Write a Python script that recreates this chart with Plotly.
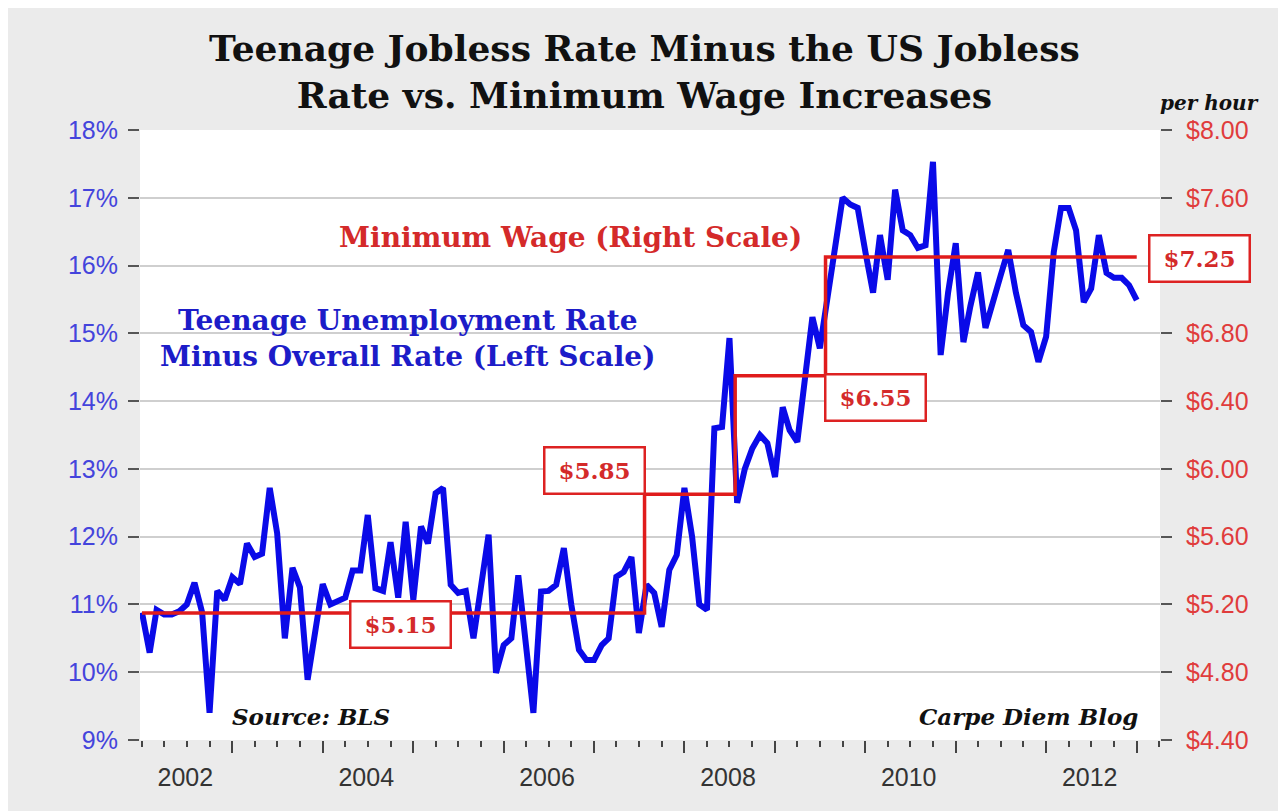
import pandas as pd
import plotly.graph_objects as go

# Monthly data, Jan 2002 onward
months = pd.date_range("2002-01-01", periods=133, freq="MS")
teen_minus_overall = [
    10.88, 10.29, 10.92, 10.85, 10.85, 10.90, 11.00, 11.32, 10.88, 9.40,
    11.20, 11.07, 11.40, 11.30, 11.90, 11.70, 11.75, 12.72, 12.05, 10.50,
    11.54, 11.25, 9.89, 10.60, 11.30, 11.00, 11.05, 11.10, 11.50, 11.50,
    12.32, 11.24, 11.20, 11.92, 11.10, 12.22, 11.07, 12.15, 11.90, 12.64,
    12.72, 11.29, 11.17, 11.20, 10.50, 11.30, 12.03, 9.99, 10.40, 10.50,
    11.43, 10.40, 9.40, 11.19, 11.20, 11.29, 11.83, 11.00, 10.33, 10.18,
    10.18, 10.40, 10.50, 11.41, 11.48, 11.70, 10.58, 11.29, 11.17, 10.67,
    11.51, 11.73, 12.72, 12.00, 11.00, 10.92, 13.60, 13.62, 14.93, 12.50,
    13.00, 13.30, 13.50, 13.38, 12.88, 13.91, 13.57, 13.40, 14.30, 15.24,
    14.78, 15.50, 16.20, 17.00, 16.90, 16.85, 16.20, 15.60, 16.45, 15.79,
    17.12, 16.52, 16.45, 16.26, 16.30, 17.53, 14.68, 15.60, 16.33, 14.87,
    15.40, 15.90, 15.08, 15.50, 15.85, 16.23, 15.60, 15.12, 15.02, 14.58,
    14.95, 16.20, 16.85, 16.85, 16.52, 15.46, 15.66, 16.45, 15.89, 15.82,
    15.82, 15.71, 15.49,
]

wage_dates = ["2002-01-01", "2007-07-24", "2008-07-24", "2009-07-24", "2013-01-01"]
min_wage = [5.15, 5.85, 6.55, 7.25, 7.25]
wage_labels = ["$5.15", "$5.85", "$6.55", "$7.25"]

year_ticks = [f"{y}-01-01" for y in range(2003, 2014)]
label_years = list(range(2002, 2013, 2))
label_pos = [f"{y}-06-25" for y in label_years]

SERIF = "DejaVu Serif"
RED = "#d42a2a"
BLUE = "#1c1cc8"

fig = go.Figure()
fig.add_trace(go.Scatter(
    x=months, y=teen_minus_overall, mode="lines",
    line=dict(color="#0a0ae8", width=6), yaxis="y", xaxis="x", showlegend=False,
))
fig.add_trace(go.Scatter(
    x=wage_dates, y=min_wage, mode="lines", line_shape="hv",
    line=dict(color="#e01c1c", width=3.5), yaxis="y2", xaxis="x", showlegend=False,
))
# invisible trace to carry the year-label axis
fig.add_trace(go.Scatter(
    x=label_pos, y=[None] * len(label_pos), mode="lines", xaxis="x2", yaxis="y",
    showlegend=False, hoverinfo="skip",
))

xrange = ["2001-12-24", "2013-04-05"]
TICKFONT = "Liberation Sans"

fig.update_layout(
    width=1278, height=803,
    paper_bgcolor="#ebebeb", plot_bgcolor="white",
    margin=dict(l=132, r=126, t=122, b=71),
    xaxis=dict(
        type="date", range=xrange, tickvals=year_ticks, showticklabels=False,
        ticks="outside", ticklen=12, tickwidth=2, tickcolor="#444444",
        showgrid=False, zeroline=False, showline=False,
        minor=dict(dtick="M3", tick0="2002-01-01", ticks="outside", ticklen=6,
                   tickwidth=2, tickcolor="#444444", showgrid=False),
    ),
    xaxis2=dict(
        type="date", range=xrange, overlaying="x", side="bottom", anchor="y",
        tickvals=label_pos, ticktext=[str(y) for y in label_years],
        ticks="outside", ticklen=15, tickcolor="rgba(0,0,0,0)",
        showgrid=False, zeroline=False, showline=False,
        tickfont=dict(family=TICKFONT, size=25, color="#333333"),
    ),
    yaxis=dict(
        range=[9, 18], dtick=1, ticksuffix="%",
        showgrid=True, gridcolor="#cfcfcf", gridwidth=2, zeroline=False, showline=False,
        ticks="outside", ticklen=11, tickwidth=2, tickcolor="#555555",
        tickfont=dict(family=TICKFONT, size=25, color="#4444dc"),
        ticklabelstandoff=5,
    ),
    yaxis2=dict(
        range=[4.4, 8.0], tick0=4.4, dtick=0.4, tickformat="$.2f",
        overlaying="y", side="right", showgrid=False, zeroline=False, showline=False,
        ticks="outside", ticklen=11, tickwidth=2, tickcolor="#555555",
        tickfont=dict(family=TICKFONT, size=25, color="#e03c3c"),
        ticklabelstandoff=9,
    ),
)

# Title
fig.add_annotation(
    text="<b>Teenage Jobless Rate Minus the US Jobless<br>Rate vs. Minimum Wage Increases</b>",
    x=0.495, y=1.096, xref="paper", yref="paper", xanchor="center", yanchor="middle",
    showarrow=False, font=dict(family=SERIF, size=36, color="#111111"),
)

box_font = dict(family=SERIF, size=23, color=RED)
box_common = dict(showarrow=False, bgcolor="white", bordercolor="#dd2222", borderwidth=2.5,
                  width=92, height=38, borderpad=3, font=box_font,
                  xanchor="center", yanchor="middle")
fig.add_annotation(text=f"<b>{wage_labels[0]}</b>", x="2004-11-10", y=10.71, xref="x", yref="y", **box_common)
fig.add_annotation(text=f"<b>{wage_labels[1]}</b>", x="2007-01-01", y=12.97, xref="x", yref="y", **box_common)
fig.add_annotation(text=f"<b>{wage_labels[2]}</b>", x="2010-02-10", y=14.06, xref="x", yref="y", **box_common)
fig.add_annotation(text=f"<b>{wage_labels[3]}</b>", x=1.039, y=16.10, xref="paper", yref="y", **box_common)

fig.add_annotation(text="<b>Minimum Wage (Right Scale)</b>", x=0.4216, y=16.41,
                   xref="paper", yref="y", showarrow=False, xanchor="center", yanchor="middle",
                   font=dict(family=SERIF, size=28, color=RED))
fig.add_annotation(text="<b>Teenage Unemployment Rate<br>Minus Overall Rate (Left Scale)</b>",
                   x=0.2627, y=14.93, xref="paper", yref="y", showarrow=False,
                   xanchor="center", yanchor="middle",
                   font=dict(family=SERIF, size=28, color=BLUE))
fig.add_annotation(text="<b><i>Source: BLS</i></b>", x=0.088, y=9.34, xref="paper", yref="y",
                   xanchor="left", yanchor="middle", showarrow=False,
                   font=dict(family=SERIF, size=23, color="#111111"))
fig.add_annotation(text="<b><i>Carpe Diem Blog</i></b>", x=0.98, y=9.34, xref="paper", yref="y",
                   xanchor="right", yanchor="middle", showarrow=False,
                   font=dict(family=SERIF, size=23, color="#111111"))
fig.add_annotation(text="<b><i>per hour</i></b>", x=1.049, y=1.044, xref="paper", yref="paper",
                   xanchor="center", yanchor="middle", showarrow=False,
                   font=dict(family=SERIF, size=20, color="#111111"))

fig.write_html("out.html")
